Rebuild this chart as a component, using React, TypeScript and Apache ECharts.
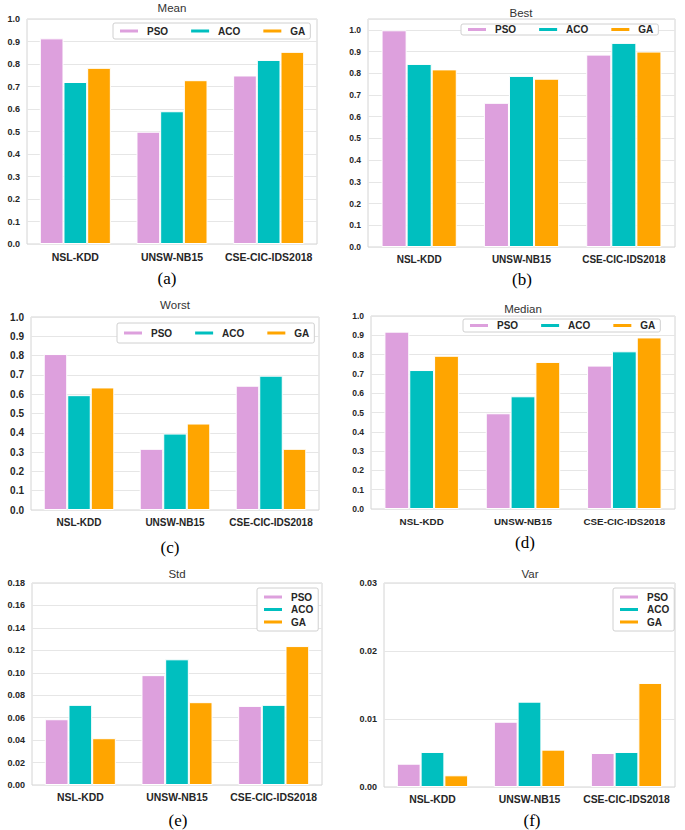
import React, { useEffect, useRef } from "react";
import * as echarts from "echarts";

const categories = ["NSL-KDD", "UNSW-NB15", "CSE-CIC-IDS2018"];
const methods = ["PSO", "ACO", "GA"];
const colors = ["#DDA0DD", "#00BFBF", "#FFA500"];

const meanPSO = [0.914, 0.499, 0.749];
const meanACO = [0.72, 0.59, 0.818];
const meanGA = [0.783, 0.728, 0.854];

const bestPSO = [0.998, 0.664, 0.886];
const bestACO = [0.843, 0.788, 0.94];
const bestGA = [0.818, 0.775, 0.9];

const worstPSO = [0.808, 0.317, 0.644];
const worstACO = [0.595, 0.396, 0.696];
const worstGA = [0.635, 0.448, 0.317];

const medianPSO = [0.919, 0.496, 0.743];
const medianACO = [0.72, 0.584, 0.817];
const medianGA = [0.794, 0.762, 0.889];

const stdPSO = [0.0586, 0.0979, 0.0705];
const stdACO = [0.0714, 0.112, 0.0714];
const stdGA = [0.0417, 0.0738, 0.1238];

const varPSO = [0.00343, 0.0096, 0.005];
const varACO = [0.00515, 0.01255, 0.00515];
const varGA = [0.00172, 0.00549, 0.0153];

const titles = ["Mean", "Best", "Worst", "Median", "Std", "Var"];
const tags = ["(a)", "(b)", "(c)", "(d)", "(e)", "(f)"];
const yMax = [1.0, 1.05, 1.0, 1.0, 0.18, 0.03];
const yInterval = [0.1, 0.1, 0.1, 0.1, 0.02, 0.01];
const yDecimals = [1, 1, 1, 1, 2, 2];
const seriesData = [
  [meanPSO, meanACO, meanGA],
  [bestPSO, bestACO, bestGA],
  [worstPSO, worstACO, worstGA],
  [medianPSO, medianACO, medianGA],
  [stdPSO, stdACO, stdGA],
  [varPSO, varACO, varGA],
];

const layout = [
  { grid: { left: 27, top: 19, width: 290, height: 225 }, legend: { left: 113, top: 23, orient: "horizontal", padding: [3, 5] }, tickFont: 9, catFont: 10.5, title: [172, 8], tag: [167, 278] },
  { grid: { left: 368, top: 19, width: 307, height: 228 }, legend: { left: 461, top: 24, orient: "horizontal", padding: [0.5, 5] }, tickFont: 8.5, catFont: 10, title: [521, 12.5], tag: [522, 279] },
  { grid: { left: 31, top: 317, width: 288, height: 193 }, legend: { left: 117, top: 323, orient: "horizontal", padding: [5, 5] }, tickFont: 10, catFont: 10, title: [175, 305], tag: [170, 547] },
  { grid: { left: 371, top: 316, width: 304, height: 193 }, legend: { left: 463, top: 319, orient: "horizontal", padding: [1.5, 5] }, tickFont: 8.5, catFont: 9.8, title: [523, 309], tag: [525, 542] },
  { grid: { left: 32, top: 583, width: 290, height: 202 }, legend: { left: 257, top: 588, orient: "vertical", padding: [4, 5] }, tickFont: 9, catFont: 10.4, title: [177, 574], tag: [178, 820] },
  { grid: { left: 384, top: 583, width: 291, height: 204 }, legend: { left: 613, top: 588, orient: "vertical", padding: [4, 5] }, tickFont: 9, catFont: 10.4, title: [530, 574], tag: [532, 820] },
];

const FONT = "'Liberation Sans', Arial, sans-serif";
const TEXT = "#262626";

export default function App() {
  const ref = useRef<HTMLDivElement>(null);
  useEffect(() => {
    if (!ref.current) return;
    const chart = echarts.init(ref.current, null, { renderer: "svg" });
    const grids: any[] = [];
    const xAxes: any[] = [];
    const yAxes: any[] = [];
    const series: any[] = [];
    const legends: any[] = [];
    const graphics: any[] = [];
    layout.forEach((L, i) => {
      grids.push({ ...L.grid, show: true, borderColor: "#d4d4d4", borderWidth: 1, backgroundColor: "#fff", containLabel: false });
      xAxes.push({
        type: "category",
        gridIndex: i,
        data: categories,
        axisTick: { show: false },
        axisLine: { show: false },
        splitLine: { show: false },
        axisLabel: { interval: 0, fontSize: L.catFont, fontWeight: "bold", color: TEXT, fontFamily: FONT, margin: 7 },
      });
      const interval = yInterval[i];
      const dec = yDecimals[i];
      yAxes.push({
        type: "value",
        gridIndex: i,
        min: 0,
        max: yMax[i],
        interval,
        axisTick: { show: false },
        axisLine: { show: false },
        splitLine: { lineStyle: { color: "#e6e6e6", width: 1 } },
        axisLabel: {
          fontSize: L.tickFont,
          fontWeight: "bold",
          color: TEXT,
          fontFamily: FONT,
          margin: 7,
          formatter: (v: number) => {
            const r = v / interval;
            return Math.abs(r - Math.round(r)) < 1e-6 ? v.toFixed(dec) : "";
          },
        },
      });
      methods.forEach((m, k) => {
        series.push({
          name: m,
          type: "bar",
          xAxisIndex: i,
          yAxisIndex: i,
          data: seriesData[i][k],
          barWidth: "24.5%",
          barGap: "0%",
          itemStyle: { color: colors[k], borderColor: "#fff", borderWidth: 1 },
        });
      });
      const vertical = L.legend.orient === "vertical";
      legends.push({
        data: methods,
        left: L.legend.left,
        top: L.legend.top,
        orient: L.legend.orient,
        padding: L.legend.padding,
        icon: "rect",
        itemWidth: 20,
        itemHeight: 5,
        itemGap: vertical ? 2.5 : 21,
        borderColor: "#d0d0d0",
        borderWidth: 1,
        borderRadius: 2,
        backgroundColor: "#fff",
        selectedMode: false,
        textStyle: { fontSize: 10, fontWeight: "bold", color: TEXT, fontFamily: FONT, padding: [0, 0, 0, 3], lineHeight: 10 },
      });
      graphics.push({
        type: "text",
        x: L.title[0],
        y: L.title[1],
        style: { text: titles[i], fontSize: 11.5, fill: "#333", fontFamily: FONT, align: "center", verticalAlign: "middle" },
      });
      graphics.push({
        type: "text",
        x: L.tag[0],
        y: L.tag[1],
        style: { text: tags[i], fontSize: 17, fill: "#000", fontFamily: "'Liberation Serif', 'Times New Roman', serif", align: "center", verticalAlign: "middle" },
      });
    });
    chart.setOption({
      animation: false,
      backgroundColor: "#fff",
      grid: grids,
      xAxis: xAxes,
      yAxis: yAxes,
      series,
      legend: legends,
      graphic: graphics,
    });
    return () => chart.dispose();
  }, []);
  return <div ref={ref} style={{ position: "absolute", left: 0, top: 0, width: 685, height: 830 }} />;
}
